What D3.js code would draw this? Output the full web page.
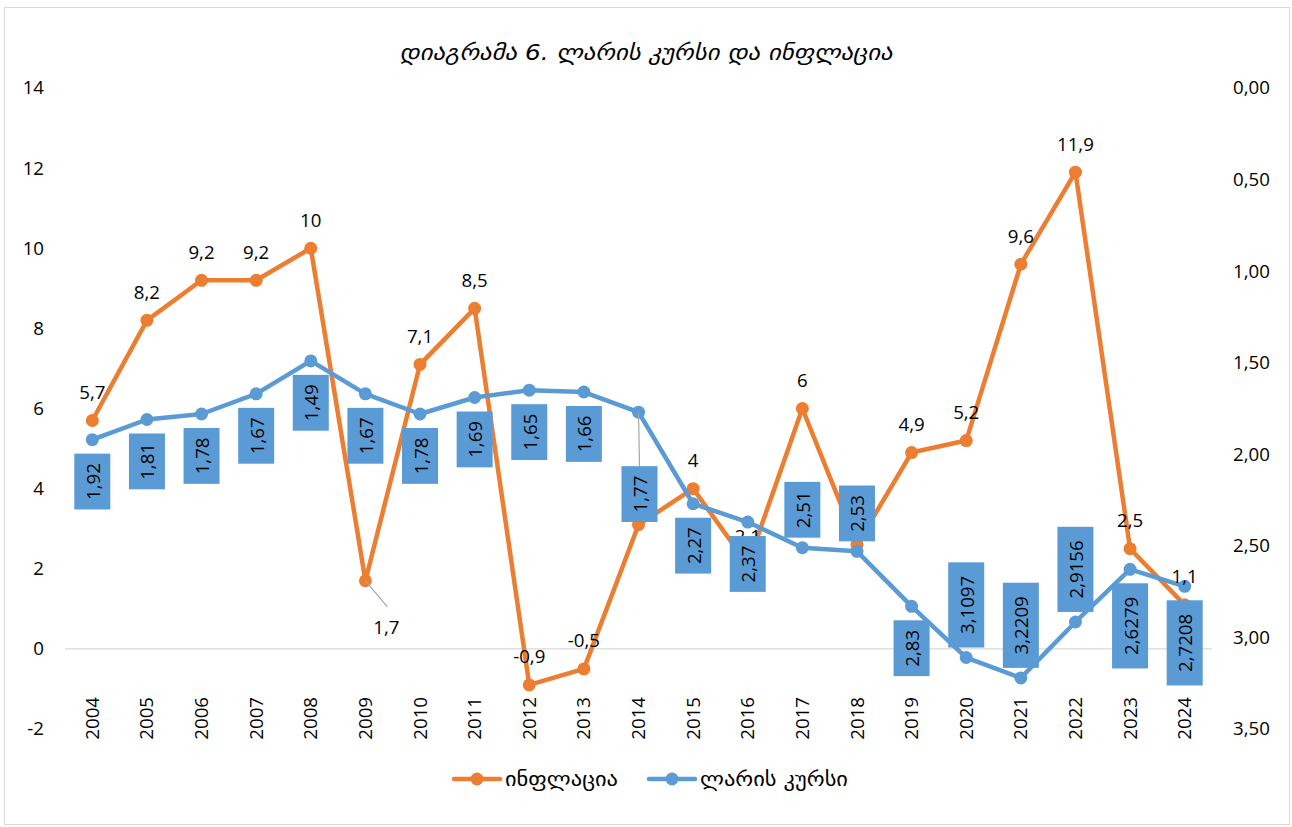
<!DOCTYPE html>
<html>
<head>
<meta charset="utf-8">
<script src="https://cdn.jsdelivr.net/npm/d3@7"></script>
<style>
  html, body { margin: 0; padding: 0; background: #fff; }
  svg { display: block; }
</style>
</head>
<body>
<svg id="chart" width="1292" height="827"></svg>
<script>
// ---- data ----
const years = ["2004","2005","2006","2007","2008","2009","2010","2011","2012","2013","2014","2015","2016","2017","2018","2019","2020","2021","2022","2023","2024"];
const inflation = [5.7, 8.2, 9.2, 9.2, 10, 1.7, 7.1, 8.5, -0.9, -0.5, 3.1, 4, 2.1, 6, 2.6, 4.9, 5.2, 9.6, 11.9, 2.5, 1.1];
const gelRate = [1.92, 1.81, 1.78, 1.67, 1.49, 1.67, 1.78, 1.69, 1.65, 1.66, 1.77, 2.27, 2.37, 2.51, 2.53, 2.83, 3.1097, 3.2209, 2.9156, 2.6279, 2.7208];
const leftTicks = [-2, 0, 2, 4, 6, 8, 10, 12, 14];
const rightTicks = [0, 0.5, 1, 1.5, 2, 2.5, 3, 3.5];
const seriesNames = ["ინფლაცია", "ლარის კურსი"];
const titleText = "დიაგრამა 6. ლარის კურსი და ინფლაცია";
// label placement for the exchange-rate labels (b = below, a = above, f = far below with leader)
const rateLabelSide = ["b","b","b","b","b","b","b","b","b","b","f","b","b","a","a","b","a","a","a","b","b"];
// inflation label placement (t = top, l = below-right with leader)
const inflLabelSide = ["t","t","t","t","t","l","t","t","t","t","t","t","t","t","t","t","t","t","t","t","t"];

// ---- style ----
const ORANGE = "#ED7D31", BLUE = "#5B9BD5";
const NUM_FONT = "'Open Sans', 'Noto Sans', sans-serif";
const KA_FONT = "'DejaVu Sans', sans-serif";
const FS = 18.67;

const svg = d3.select("#chart");
const fmt = v => String(v).replace(".", ",");

// frame
svg.append("rect").attr("x", 4.5).attr("y", 7.5).attr("width", 1285).attr("height", 817)
  .attr("fill", "#fff").attr("stroke", "#d9d9d9").attr("stroke-width", 1);

// scales
const x = d3.scaleBand().domain(years).range([65, 1212]).padding(0);
const yL = d3.scaleLinear().domain([-2, 14]).range([729, 88]);
const yR = d3.scaleLinear().domain([0, 3.5]).range([88, 729]);
const cx = d => x(d) + x.bandwidth() / 2;

// title
svg.append("text").attr("x", 646).attr("y", 52).attr("text-anchor", "middle")
  .attr("dominant-baseline", "central")
  .attr("font-family", KA_FONT).attr("font-style", "italic").attr("font-size", 22)
  .attr("textLength", 493).attr("lengthAdjust", "spacingAndGlyphs")
  .attr("fill", "#000").text(titleText);

// left axis
const axL = d3.axisLeft(yL).tickValues(leftTicks).tickSize(0).tickPadding(0).tickFormat(d => String(d));
const gL = svg.append("g").attr("transform", "translate(44,0)").call(axL);
gL.select(".domain").remove();
gL.selectAll("text").attr("font-family", NUM_FONT).attr("font-size", FS).attr("fill", "#000");

// right axis
const axR = d3.axisRight(yR).tickValues(rightTicks).tickSize(0).tickPadding(0).tickFormat(d => d3.format(".2f")(d).replace(".", ","));
const gR = svg.append("g").attr("transform", "translate(1233,0)").call(axR);
gR.select(".domain").remove();
gR.selectAll("text").attr("font-family", NUM_FONT).attr("font-size", FS).attr("fill", "#000");

// zero line
svg.append("line").attr("x1", 65).attr("x2", 1212).attr("y1", yL(0)).attr("y2", yL(0))
  .attr("stroke", "#d9d9d9").attr("stroke-width", 1.3);

// x axis labels
const axX = d3.axisBottom(x).tickSize(0).tickPadding(0);
const gX = svg.append("g").attr("transform", "translate(0,697)").call(axX);
gX.select(".domain").remove();
gX.selectAll("text")
  .attr("font-family", NUM_FONT).attr("font-size", FS).attr("fill", "#000")
  .attr("transform", "rotate(-90)").attr("text-anchor", "end")
  .attr("x", 0).attr("y", 0).attr("dy", "0.35em");

// series
const lineInf = d3.line().x((d, i) => cx(years[i])).y(d => yL(d));
const lineRate = d3.line().x((d, i) => cx(years[i])).y(d => yR(d));

svg.append("path").datum(inflation).attr("d", lineInf).attr("fill", "none")
  .attr("stroke", ORANGE).attr("stroke-width", 4.5).attr("stroke-linejoin", "round").attr("stroke-linecap", "round");
svg.append("g").selectAll("circle").data(inflation).join("circle")
  .attr("cx", (d, i) => cx(years[i])).attr("cy", d => yL(d)).attr("r", 6.5).attr("fill", ORANGE);

svg.append("path").datum(gelRate).attr("d", lineRate).attr("fill", "none")
  .attr("stroke", BLUE).attr("stroke-width", 4.5).attr("stroke-linejoin", "round").attr("stroke-linecap", "round");
svg.append("g").selectAll("circle").data(gelRate).join("circle")
  .attr("cx", (d, i) => cx(years[i])).attr("cy", d => yR(d)).attr("r", 6.5).attr("fill", BLUE);

// inflation labels
const infG = svg.append("g");
inflation.forEach((v, i) => {
  const px = cx(years[i]), py = yL(v);
  if (inflLabelSide[i] === "l") {
    infG.append("line").attr("x1", px).attr("y1", py).attr("x2", px + 22).attr("y2", py + 26)
      .attr("stroke", "#a6a6a6").attr("stroke-width", 1.2);
    infG.append("text").attr("x", px + 21).attr("y", py + 46).attr("text-anchor", "middle")
      .attr("dominant-baseline", "central").attr("font-family", NUM_FONT).attr("font-size", FS)
      .attr("fill", "#000").text(fmt(v));
  } else {
    infG.append("text").attr("x", px).attr("y", py - 29).attr("text-anchor", "middle")
      .attr("dominant-baseline", "central").attr("font-family", NUM_FONT).attr("font-size", FS)
      .attr("fill", "#000").text(fmt(v));
  }
});

// exchange-rate labels (rotated, blue boxes)
const rateG = svg.append("g");
gelRate.forEach((v, i) => {
  const px = cx(years[i]), py = yR(v);
  const g = rateG.append("g");
  const t = g.append("text").attr("font-family", NUM_FONT).attr("font-size", FS)
    .attr("text-anchor", "middle").attr("dominant-baseline", "central").attr("fill", "#000")
    .attr("transform", "rotate(-90)").text(fmt(v));
  const len = t.node().getComputedTextLength();
  const h = len + 19 + (len > 45 ? 8 : 0), w = 36;
  let cy;
  const side = rateLabelSide[i];
  if (side === "a") cy = py - 10 - h / 2;
  else if (side === "f") cy = py + 54 + h / 2;
  else cy = py + 14 + h / 2;
  if (side === "f") {
    rateG.insert("line", "g").attr("x1", px).attr("y1", py).attr("x2", px + 1).attr("y2", cy - h / 2)
      .attr("stroke", "#a6a6a6").attr("stroke-width", 1.2);
  }
  g.attr("transform", `translate(${px + (side === "f" ? 1 : 0)},${cy})`);
  g.insert("rect", "text").attr("x", -w / 2).attr("y", -h / 2).attr("width", w).attr("height", h).attr("fill", BLUE);
});

// legend
const legend = svg.append("g").attr("transform", "translate(0,779)");
const legItems = [
  { name: seriesNames[0], color: ORANGE, x0: 454, tw: 113 },
  { name: seriesNames[1], color: BLUE, x0: 649, tw: 148 }
];
legItems.forEach(it => {
  legend.append("line").attr("x1", it.x0).attr("x2", it.x0 + 46).attr("y1", 0).attr("y2", 0)
    .attr("stroke", it.color).attr("stroke-width", 4.5).attr("stroke-linecap", "round");
  legend.append("circle").attr("cx", it.x0 + 23).attr("cy", 0).attr("r", 6.5).attr("fill", it.color);
  legend.append("text").attr("x", it.x0 + 51).attr("y", 0).attr("dominant-baseline", "central")
    .attr("font-family", KA_FONT).attr("font-size", 20)
    .attr("textLength", it.tw).attr("lengthAdjust", "spacingAndGlyphs")
    .attr("fill", "#000").text(it.name);
});
</script>
</body>
</html>
